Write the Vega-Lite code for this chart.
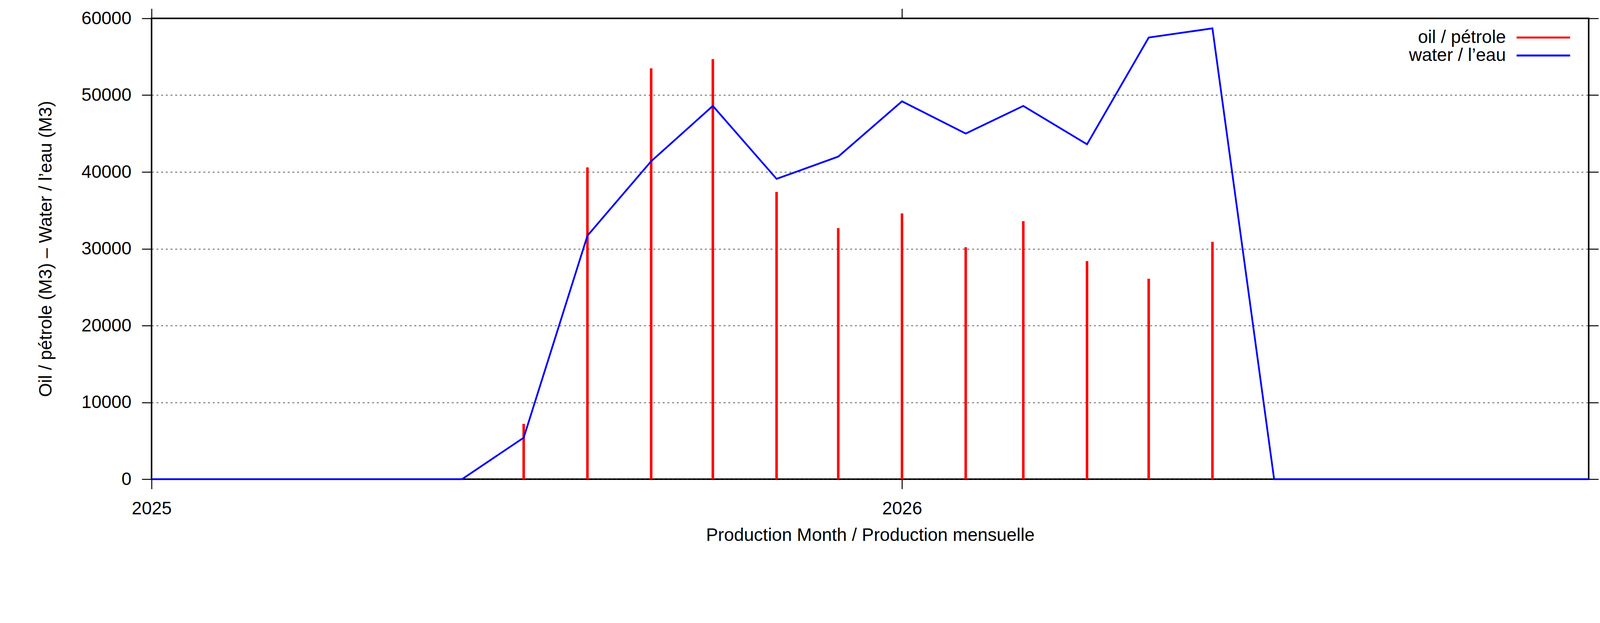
{
  "$schema": "https://vega.github.io/schema/vega-lite/v6.json",
  "width": 4150,
  "height": 1594,
  "autosize": {"type": "fit", "contains": "padding"},
  "padding": {"left": 94, "top": 20, "right": 56, "bottom": 202},
  "background": "white",
  "config": {
    "font": "Liberation Sans",
    "view": {"stroke": "black", "strokeWidth": 4},
    "axis": {
      "domain": false,
      "tickColor": "black",
      "tickWidth": 2.5,
      "tickSize": 25,
      "labelFontSize": 46,
      "labelColor": "black",
      "labelFlush": false,
      "labelPadding": 28,
      "titleFontSize": 46,
      "titleFontWeight": "normal",
      "titleColor": "black"
    },
    "legend": {
      "title": null,
      "orient": "none",
      "padding": 0,
      "symbolType": "stroke",
      "symbolSize": 18769,
      "symbolStrokeWidth": 5,
      "rowPadding": 0,
      "labelFontSize": 46,
      "labelColor": "black",
      "labelAlign": "right",
      "labelBaseline": "middle",
      "labelOffset": -167,
      "labelLimit": 0
    }
  },
  "data": {
    "values": [
      {"month": "2025-07-01T00:00", "series": "oil / pétrole", "volume": 7200},
      {"month": "2025-08-01T00:00", "series": "oil / pétrole", "volume": 40600},
      {"month": "2025-09-01T00:00", "series": "oil / pétrole", "volume": 53500},
      {"month": "2025-10-01T00:00", "series": "oil / pétrole", "volume": 54700},
      {"month": "2025-11-01T00:00", "series": "oil / pétrole", "volume": 37400},
      {"month": "2025-12-01T00:00", "series": "oil / pétrole", "volume": 32700},
      {"month": "2026-01-01T00:00", "series": "oil / pétrole", "volume": 34600},
      {"month": "2026-02-01T00:00", "series": "oil / pétrole", "volume": 30200},
      {"month": "2026-03-01T00:00", "series": "oil / pétrole", "volume": 33600},
      {"month": "2026-04-01T00:00", "series": "oil / pétrole", "volume": 28400},
      {"month": "2026-05-01T00:00", "series": "oil / pétrole", "volume": 26100},
      {"month": "2026-06-01T00:00", "series": "oil / pétrole", "volume": 30900},
      {"month": "2025-01-01T00:00", "series": "water / l’eau", "volume": 0},
      {"month": "2025-02-01T00:00", "series": "water / l’eau", "volume": 0},
      {"month": "2025-03-01T00:00", "series": "water / l’eau", "volume": 0},
      {"month": "2025-04-01T00:00", "series": "water / l’eau", "volume": 0},
      {"month": "2025-05-01T00:00", "series": "water / l’eau", "volume": 0},
      {"month": "2025-06-01T00:00", "series": "water / l’eau", "volume": 0},
      {"month": "2025-07-01T00:00", "series": "water / l’eau", "volume": 5400},
      {"month": "2025-08-01T00:00", "series": "water / l’eau", "volume": 31700},
      {"month": "2025-09-01T00:00", "series": "water / l’eau", "volume": 41400},
      {"month": "2025-10-01T00:00", "series": "water / l’eau", "volume": 48600},
      {"month": "2025-11-01T00:00", "series": "water / l’eau", "volume": 39100},
      {"month": "2025-12-01T00:00", "series": "water / l’eau", "volume": 42000},
      {"month": "2026-01-01T00:00", "series": "water / l’eau", "volume": 49200},
      {"month": "2026-02-01T00:00", "series": "water / l’eau", "volume": 45000},
      {"month": "2026-03-01T00:00", "series": "water / l’eau", "volume": 48600},
      {"month": "2026-04-01T00:00", "series": "water / l’eau", "volume": 43600},
      {"month": "2026-05-01T00:00", "series": "water / l’eau", "volume": 57500},
      {"month": "2026-06-01T00:00", "series": "water / l’eau", "volume": 58700},
      {"month": "2026-07-01T00:00", "series": "water / l’eau", "volume": 0},
      {"month": "2026-08-01T00:00", "series": "water / l’eau", "volume": 0},
      {"month": "2026-09-01T00:00", "series": "water / l’eau", "volume": 0},
      {"month": "2026-10-01T00:00", "series": "water / l’eau", "volume": 0},
      {"month": "2026-11-01T00:00", "series": "water / l’eau", "volume": 0},
      {"month": "2026-12-01T00:00", "series": "water / l’eau", "volume": 0}
    ]
  },
  "layer": [
    {
      "transform": [{"filter": "datum.series == 'oil / pétrole'"}],
      "mark": {"type": "rule", "strokeWidth": 6.5},
      "encoding": {
        "x": {
          "field": "month",
          "type": "temporal",
          "scale": {"domain": [{"year": 2025, "month": 1, "date": 1}, {"year": 2026, "month": 12, "date": 1}]},
          "axis": {
            "orient": "bottom",
            "values": [{"year": 2025, "month": 1, "date": 1}, {"year": 2026, "month": 1, "date": 1}],
            "format": "%Y",
            "grid": false,
            "title": "Production Month / Production mensuelle",
            "titlePadding": 23
          }
        },
        "y": {
          "field": "volume",
          "type": "quantitative",
          "scale": {"domain": [0, 60000], "nice": false},
          "axis": {
            "orient": "left",
            "values": [0, 10000, 20000, 30000, 40000, 50000, 60000],
            "format": "d",
            "labelPadding": 27,
            "grid": true,
            "gridColor": "#222222",
            "gridDash": [5, 7],
            "gridWidth": 1.5,
            "title": "Oil / pétrole (M3)  –  Water / l’eau (M3)",
            "titlePadding": 67
          }
        },
        "y2": {"datum": 0},
        "color": {
          "field": "series",
          "type": "nominal",
          "scale": {"domain": ["oil / pétrole"], "range": ["#ff0000"]},
          "legend": {"legendX": 3492, "legendY": -22}
        }
      }
    },
    {
      "transform": [{"filter": "datum.series != 'oil / pétrole'"}],
      "mark": {"type": "line", "strokeWidth": 4.5},
      "encoding": {
        "x": {
          "field": "month",
          "type": "temporal",
          "axis": {
            "orient": "top",
            "values": [{"year": 2025, "month": 1, "date": 1}, {"year": 2026, "month": 1, "date": 1}],
            "labels": false,
            "grid": false,
            "title": null
          }
        },
        "y": {
          "field": "volume",
          "type": "quantitative",
          "axis": {
            "orient": "right",
            "values": [0, 10000, 20000, 30000, 40000, 50000, 60000],
            "labels": false,
            "grid": false,
            "title": null
          }
        },
        "color": {
          "field": "series",
          "type": "nominal",
          "scale": {"domain": ["water / l’eau"], "range": ["#0000ff"]},
          "legend": {"legendX": 3492, "legendY": 24}
        }
      }
    }
  ],
  "resolve": {
    "scale": {"color": "independent"},
    "axis": {"x": "independent", "y": "independent"}
  }
}
